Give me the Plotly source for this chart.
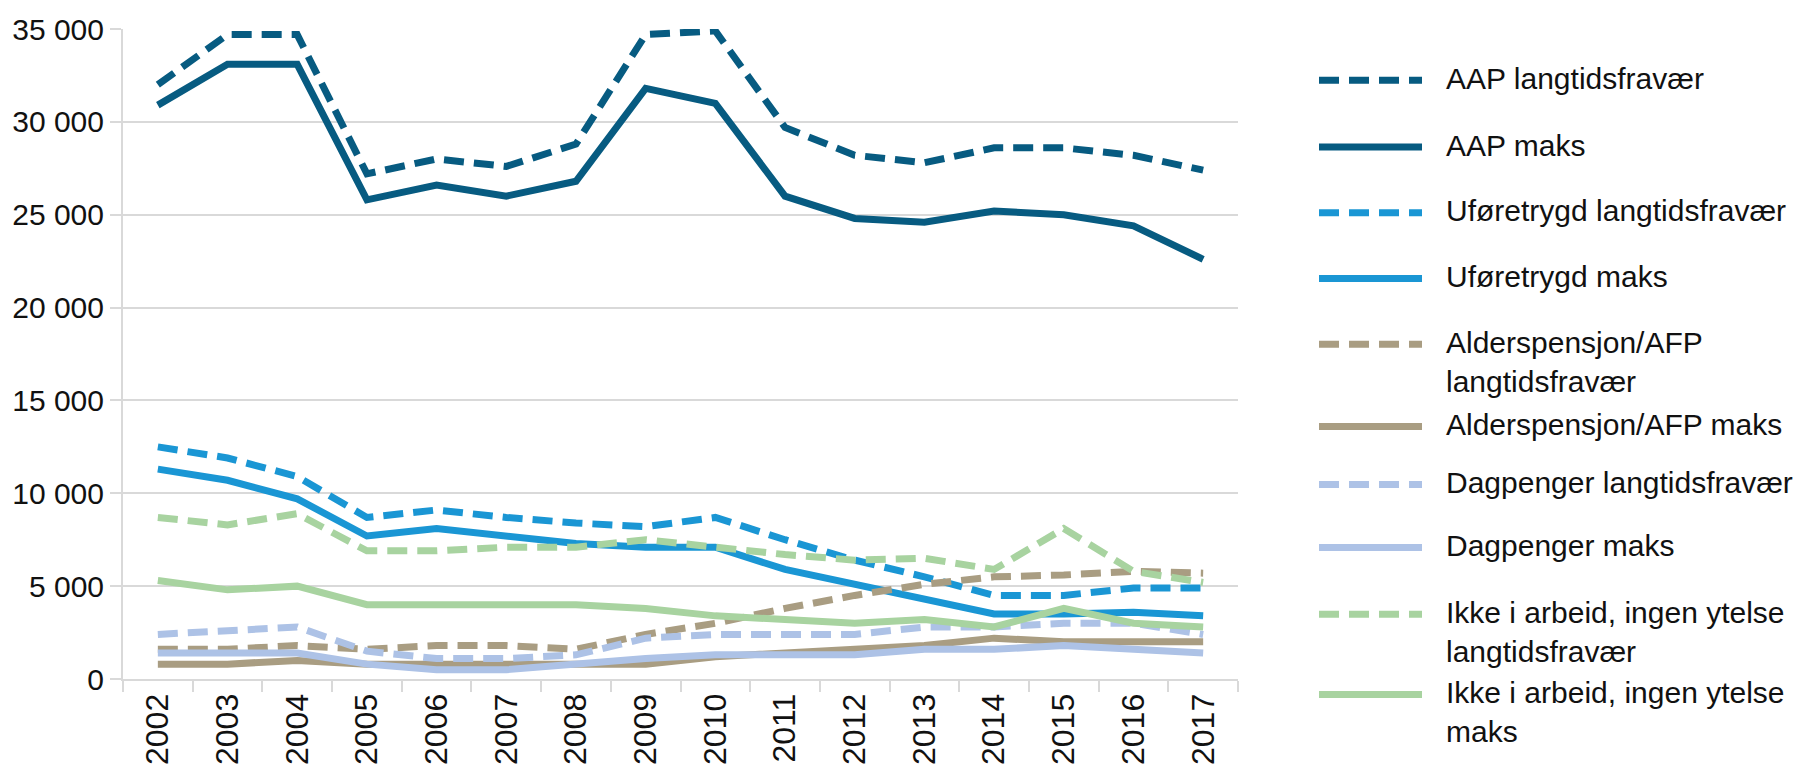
import plotly.graph_objects as go

years = [str(y) for y in range(2002, 2018)]

aap_lang = [32000, 34700, 34700, 27200, 28000, 27600, 28800, 34700, 34900, 29700, 28200, 27800, 28600, 28600, 28200, 27400]
aap_maks = [30900, 33100, 33100, 25800, 26600, 26000, 26800, 31800, 31000, 26000, 24800, 24600, 25200, 25000, 24400, 22600]
ufore_lang = [12500, 11900, 10900, 8700, 9100, 8700, 8400, 8200, 8700, 7500, 6400, 5500, 4500, 4500, 4900, 4900]
ufore_maks = [11300, 10700, 9700, 7700, 8100, 7700, 7300, 7100, 7100, 5900, 5100, 4300, 3500, 3500, 3600, 3400]
alder_lang = [1600, 1600, 1800, 1600, 1800, 1800, 1600, 2400, 3000, 3800, 4500, 5100, 5500, 5600, 5800, 5700]
alder_maks = [800, 800, 1000, 800, 800, 800, 800, 800, 1200, 1400, 1600, 1800, 2200, 2000, 2000, 2000]
dag_lang = [2400, 2600, 2800, 1500, 1100, 1100, 1300, 2200, 2400, 2400, 2400, 2800, 2800, 3000, 3000, 2400]
dag_maks = [1400, 1400, 1400, 800, 500, 500, 800, 1100, 1300, 1300, 1300, 1600, 1600, 1800, 1600, 1400]
ikke_lang = [8700, 8300, 8900, 6900, 6900, 7100, 7100, 7500, 7100, 6700, 6400, 6500, 5900, 8100, 5800, 5200]
ikke_maks = [5300, 4800, 5000, 4000, 4000, 4000, 4000, 3800, 3400, 3200, 3000, 3200, 2800, 3800, 3000, 2800]

series_names = [
    "AAP langtidsfravær",
    "AAP maks",
    "Uføretrygd langtidsfravær",
    "Uføretrygd maks",
    "Alderspensjon/AFP<br>langtidsfravær",
    "Alderspensjon/AFP maks",
    "Dagpenger langtidsfravær",
    "Dagpenger maks",
    "Ikke i arbeid, ingen ytelse<br>langtidsfravær",
    "Ikke i arbeid, ingen ytelse<br>maks",
]
series_values = [aap_lang, aap_maks, ufore_lang, ufore_maks, alder_lang, alder_maks,
                 dag_lang, dag_maks, ikke_lang, ikke_maks]

C_AAP = "#075b81"
C_UFO = "#1a96d4"
C_ALD = "#a99d82"
C_DAG = "#adc2e6"
C_IKK = "#a8d3a0"
series_colors = [C_AAP, C_AAP, C_UFO, C_UFO, C_ALD, C_ALD, C_DAG, C_DAG, C_IKK, C_IKK]
series_dashed = [True, False] * 5

y_ticks = [0, 5000, 10000, 15000, 20000, 25000, 30000, 35000]

W, H = 1810, 777
ML, MR, MT, MB = 123, 572, 17, 88
PW = W - ML - MR
PH = H - MT - MB

DASH = "20px,10px"
LW = 7
FONT = "Liberation Sans, Arial, sans-serif"

fig = go.Figure()
for name, vals, col, dashed in zip(series_names, series_values, series_colors, series_dashed):
    fig.add_trace(go.Scatter(
        x=years, y=vals, mode="lines", name=name.replace("<br>", " "),
        line=dict(color=col, width=LW, dash=DASH if dashed else "solid"),
        showlegend=False, cliponaxis=False,
    ))

# custom legend (long line samples like the original)
shapes = []
annotations = []
leg_x0, leg_x1, txt_x = 1319, 1422, 1444
leg_rows = [70, 139, 207, 275, 343, 428, 488, 553, 622, 705]
for py, name, col, dashed in zip(leg_rows, series_names, series_colors, series_dashed):
    yp = (H - MB - py) / PH
    shapes.append(dict(
        type="line", xref="paper", yref="paper",
        x0=(leg_x0 - ML) / PW, x1=(leg_x1 - ML) / PW, y0=yp, y1=yp,
        line=dict(color=col, width=7, dash=DASH if dashed else "solid"),
    ))
    ytop = (H - MB - (py - 21)) / PH
    annotations.append(dict(
        xref="paper", yref="paper", x=(txt_x - ML) / PW, y=ytop,
        xanchor="left", yanchor="top", text=name, showarrow=False, align="left",
        font=dict(family=FONT, size=30, color="#111111"),
    ))

fig.update_layout(
    width=W, height=H, autosize=False,
    margin=dict(l=ML, r=MR, t=MT, b=MB),
    paper_bgcolor="white", plot_bgcolor="white",
    separators=", ",
    shapes=shapes, annotations=annotations,
    xaxis=dict(
        type="category", tickson="boundaries", ticks="outside", ticklen=11,
        tickcolor="#d9d9d9", tickwidth=2, showgrid=False,
        showline=True, linecolor="#d9d9d9", linewidth=2,
        tickangle=-90, tickfont=dict(family=FONT, size=32, color="#111111"),
        range=[-0.5, 15.5],
    ),
    yaxis=dict(
        range=[0, 35000], tickvals=y_ticks, tickformat=",d",
        showgrid=True, gridcolor="#d9d9d9", gridwidth=2,
        zeroline=False, showline=True, linecolor="#d9d9d9", linewidth=2,
        ticks="outside", ticklen=11, tickcolor="#d9d9d9", tickwidth=2,
        tickfont=dict(family=FONT, size=30, color="#111111"),
    ),
    showlegend=False,
)

fig.write_html("out.html", config={"displayModeBar": False},
               post_script="document.body.style.margin='0';")
